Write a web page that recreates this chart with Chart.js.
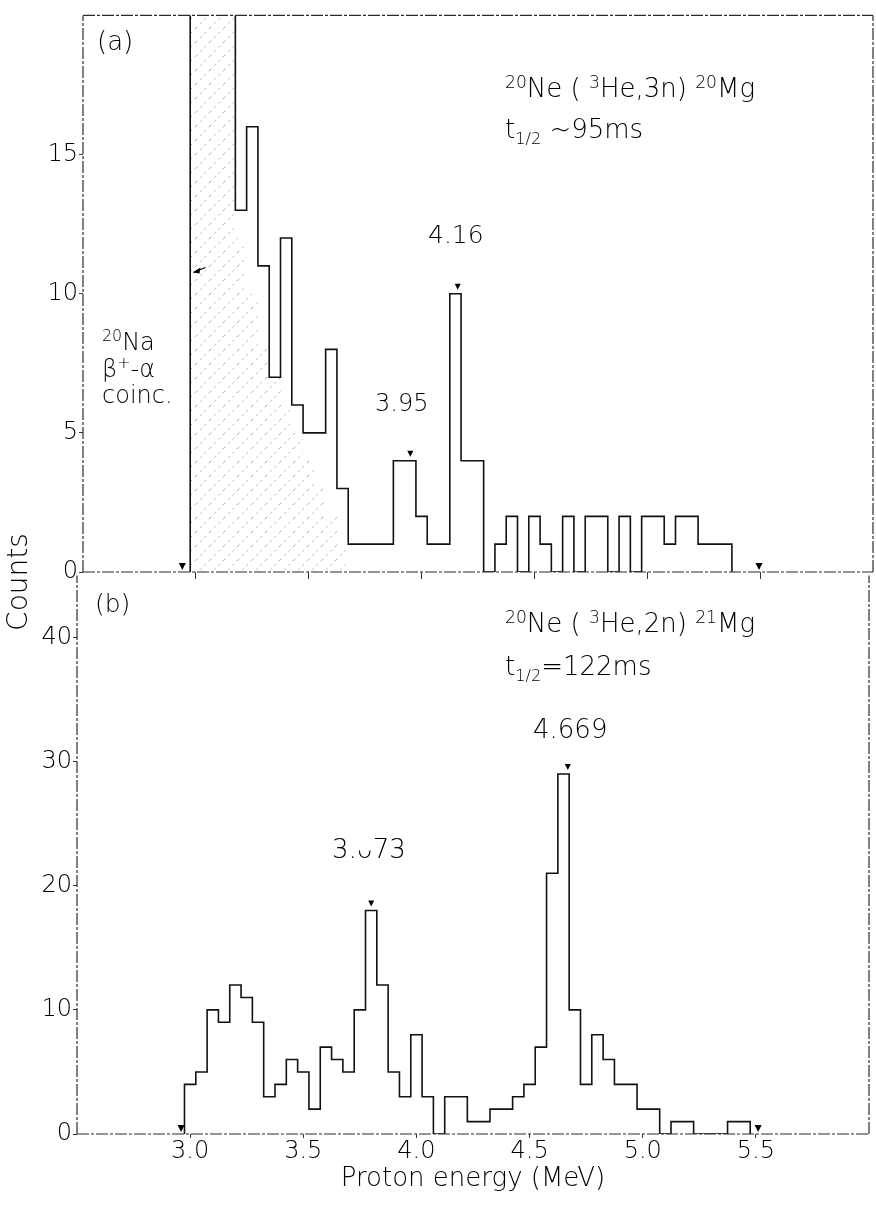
<!DOCTYPE html>
<html>
<head>
<meta charset="utf-8">
<script src="https://cdn.jsdelivr.net/npm/chart.js@4/dist/chart.umd.min.js"></script>
<style>
  html, body { margin: 0; padding: 0; background: #fff; }
  #wrap { position: relative; width: 876px; height: 1207px; overflow: hidden;
          font-family: "DejaVu Sans", sans-serif; font-weight: 200; color: #000; }
  canvas { position: absolute; left: 0; }
  .t { position: absolute; white-space: nowrap; line-height: 1; }
  .t sup { font-size: 0.66em; vertical-align: 0.55em; line-height: 0; }
  .t sub { font-size: 0.62em; vertical-align: -0.35em; line-height: 0; }
</style>
</head>
<body>
<div id="wrap">
  <canvas id="panelA" style="top:0px; width:876px; height:600px;" width="876" height="600"></canvas>
  <canvas id="panelB" style="top:560px; width:876px; height:647px;" width="876" height="647"></canvas>

  <div class="t" style="left:97px; top:28px; font-size:26px;">(a)</div>
  <div class="t" style="left:505px; top:75px; font-size:26px;"><sup>20</sup>Ne ( <sup>3</sup>He,3n) <sup>20</sup>Mg</div>
  <div class="t" style="left:505px; top:116px; font-size:26px;">t<sub>1/2</sub> ~95ms</div>
  <div class="t" style="left:428px; top:222px; font-size:25px;">4.16</div>
  <div class="t" style="left:375px; top:391px; font-size:24px;">3.95</div>
  <div class="t" style="left:102px; top:330px; font-size:24px;"><sup>20</sup>Na</div>
  <div class="t" style="left:102px; top:357px; font-size:24px;">β<sup>+</sup>-α</div>
  <div class="t" style="left:102px; top:383px; font-size:24px;">coinc.</div>

  <div class="t" style="left:95px; top:591px; font-size:25px;">(b)</div>
  <div class="t" style="left:505px; top:610px; font-size:26px;"><sup>20</sup>Ne ( <sup>3</sup>He,2n) <sup>21</sup>Mg</div>
  <div class="t" style="left:505px; top:653px; font-size:26px;">t<sub>1/2</sub>=122ms</div>
  <div class="t" style="left:533px; top:716px; font-size:26px;">4.669</div>
  <div class="t" style="left:332px; top:836px; font-size:26px;">3.ᴗ73</div>

  <div class="t" style="left:18px; top:582px; font-size:28px; transform: translate(-50%,-50%) rotate(-90deg); transform-origin: 50% 50%;">Counts</div>
</div>

<script>
// Bin width of both spectra (MeV); values below are bin centres.
const BIN = 0.05;

// (a) 20Ne(3He,3n)20Mg delayed-proton spectrum
const energyA = [3.00, 3.05, 3.10, 3.15, 3.20, 3.25, 3.30, 3.35, 3.40, 3.45,
                 3.50, 3.55, 3.60, 3.65, 3.70, 3.75, 3.80, 3.85, 3.90, 3.95,
                 4.00, 4.05, 4.10, 4.15, 4.20, 4.25, 4.30, 4.35, 4.40, 4.45,
                 4.50, 4.55, 4.60, 4.65, 4.70, 4.75, 4.80, 4.85, 4.90, 4.95,
                 5.00, 5.05, 5.10, 5.15, 5.20, 5.25, 5.30, 5.35];
const countsA = [24, 24, 24, 24, 13, 16, 11, 7, 12, 6,
                 5, 5, 8, 3, 1, 1, 1, 1, 4, 4,
                 2, 1, 1, 10, 4, 4, 0, 1, 2, 0,
                 2, 1, 0, 2, 0, 2, 2, 0, 2, 0,
                 2, 2, 1, 2, 2, 1, 1, 1];

// (a) hatched 20Na beta+-alpha coincidence contribution
const energyCoinc = [3.00, 3.05, 3.10, 3.15, 3.20, 3.25, 3.30, 3.35, 3.40, 3.45, 3.50, 3.55, 3.60, 3.65];
const countsCoinc = [24, 24, 24, 24, 12, 10, 8, 7, 6, 5, 4, 3, 2, 1];

// (b) 20Ne(3He,2n)21Mg delayed-proton spectrum
const energyB = [3.00, 3.05, 3.10, 3.15, 3.20, 3.25, 3.30, 3.35, 3.40, 3.45,
                 3.50, 3.55, 3.60, 3.65, 3.70, 3.75, 3.80, 3.85, 3.90, 3.95,
                 4.00, 4.05, 4.10, 4.15, 4.20, 4.25, 4.30, 4.35, 4.40, 4.45,
                 4.50, 4.55, 4.60, 4.65, 4.70, 4.75, 4.80, 4.85, 4.90, 4.95,
                 5.00, 5.05, 5.10, 5.15, 5.20, 5.25, 5.30, 5.35, 5.40, 5.45];
const countsB = [4, 5, 10, 9, 12, 11, 9, 3, 4, 6,
                 5, 2, 7, 6, 5, 10, 18, 12, 5, 3,
                 8, 3, 0, 3, 3, 1, 1, 2, 2, 3,
                 4, 7, 21, 29, 10, 4, 8, 6, 4, 4,
                 2, 2, 0, 1, 1, 0, 0, 0, 1, 1];

// Identified peaks (energy, counts of the peak bin)
const peakEnergyA = [3.95, 4.16];
const peakCountA  = [4, 10];
const peakEnergyB = [3.80, 4.669];
const peakCountB  = [18, 29];

// Analysis-window limits marked on the energy axis
const windowA = [2.94, 5.495];
const windowB = [2.96, 5.51];

// Axis ticks
const energyTicks = [3.0, 3.5, 4.0, 4.5, 5.0, 5.5];
const countTicksA = [0, 5, 10, 15];
const countTicksB = [0, 10, 20, 30, 40];

const FONT = { family: '"DejaVu Sans", sans-serif', size: 24, weight: '200' };
const INK = '#000';

// Outline points of a step histogram (left edges, closed to zero at both ends)
function stepPoints(centres, counts) {
  const pts = [{ x: centres[0] - BIN / 2, y: 0 }];
  centres.forEach((c, i) => pts.push({ x: c - BIN / 2, y: counts[i] }));
  pts.push({ x: centres[centres.length - 1] + BIN / 2, y: 0 });
  return pts;
}

function hatchPattern() {
  const c = document.createElement('canvas');
  c.width = 14; c.height = 14;
  const g = c.getContext('2d');
  g.strokeStyle = 'rgba(0,0,0,0.32)';
  g.lineWidth = 1;
  g.setLineDash([2, 4]);
  g.beginPath();
  g.moveTo(0, 14); g.lineTo(14, 0);
  g.stroke();
  return g.createPattern(c, 'repeat');
}

function downTriangle(ctx, px, tipY, w, h) {
  ctx.beginPath();
  ctx.moveTo(px - w / 2, tipY - h);
  ctx.lineTo(px + w / 2, tipY - h);
  ctx.lineTo(px, tipY);
  ctx.closePath();
  ctx.fill();
}

// Dashed frame, window markers and peak markers, all placed through the scales
const panelDecor = {
  id: 'panelDecor',
  afterDatasetsDraw(chart, args, o) {
    const { ctx, chartArea: a, scales: { x, y } } = chart;
    ctx.save();
    ctx.strokeStyle = '#2b2b2b';
    ctx.lineWidth = 1.2;
    ctx.setLineDash([12, 2, 3, 2]);
    ctx.beginPath();
    ctx.moveTo(a.left, a.bottom); ctx.lineTo(a.right, a.bottom);
    ctx.moveTo(a.left, a.bottom); ctx.lineTo(a.left, a.top);
    ctx.moveTo(a.right, a.bottom); ctx.lineTo(a.right, a.top);
    if (o.topSide) { ctx.moveTo(a.left, a.top); ctx.lineTo(a.right, a.top); }
    ctx.stroke();
    ctx.setLineDash([]);
    ctx.fillStyle = INK;
    o.window.forEach(e => downTriangle(ctx, x.getPixelForValue(e), y.getPixelForValue(0) - 2, 7, 7));
    o.peakE.forEach((e, i) => downTriangle(ctx, x.getPixelForValue(e), y.getPixelForValue(o.peakN[i]) - 4, 6, 6));
    if (o.arrow) {
      const tx = x.getPixelForValue(o.arrow.x), ty = y.getPixelForValue(o.arrow.y);
      ctx.strokeStyle = INK; ctx.lineWidth = 1.2;
      ctx.beginPath(); ctx.moveTo(tx + 3, ty); ctx.lineTo(tx + 13, ty - 4); ctx.stroke();
      ctx.beginPath(); ctx.moveTo(tx, ty + 1); ctx.lineTo(tx + 8, ty - 4); ctx.lineTo(tx + 7, ty + 2); ctx.closePath(); ctx.fill();
    }
    ctx.restore();
  }
};

function makePanel(id, cfg) {
  const datasets = cfg.series.map(s => ({
    data: stepPoints(s.e, s.n),
    stepped: 'before',
    borderColor: s.fill ? 'rgba(0,0,0,0)' : '#111',
    borderWidth: s.fill ? 0 : 1.6,
    backgroundColor: s.fill || 'rgba(0,0,0,0)',
    fill: s.fill ? 'origin' : false,
    pointRadius: 0,
    tension: 0,
    order: s.fill ? 2 : 1
  }));
  return new Chart(document.getElementById(id), {
    type: 'line',
    data: { datasets },
    options: {
      responsive: false,
      animation: false,
      events: [],
      layout: { padding: cfg.padding },
      plugins: {
        legend: { display: false },
        tooltip: { enabled: false },
        panelDecor: cfg.decor
      },
      scales: {
        x: {
          type: 'linear', min: 2.5, max: 6.0,
          afterBuildTicks: s => { s.ticks = energyTicks.map(v => ({ value: v })); },
          afterFit: s => { s.height = cfg.xHeight; },
          border: { display: false },
          grid: { drawOnChartArea: false, drawTicks: true, tickLength: cfg.xTickLen, color: '#333', lineWidth: 1 },
          ticks: {
            display: cfg.xLabels, font: FONT, color: INK, padding: cfg.xPad, maxRotation: 0,
            callback: v => Number(v).toFixed(1)
          },
          title: cfg.xTitle ? {
            display: true, text: cfg.xTitle, color: INK,
            font: { family: FONT.family, size: 26, weight: '200' },
            padding: { top: 0, bottom: 12 }
          } : { display: false }
        },
        y: {
          type: 'linear', min: 0, max: cfg.yMax,
          afterBuildTicks: s => { s.ticks = cfg.yTicks.map(v => ({ value: v })); },
          afterFit: s => { s.width = cfg.yWidth; },
          border: { display: false },
          grid: { drawOnChartArea: false, drawTicks: true, tickLength: 4, color: '#333', lineWidth: 1 },
          ticks: { font: FONT, color: INK, padding: 1 }
        }
      }
    },
    plugins: [panelDecor]
  });
}

makePanel('panelA', {
  series: [
    { e: energyCoinc, n: countsCoinc, fill: hatchPattern() },
    { e: energyA, n: countsA }
  ],
  padding: { top: 10, right: 3, left: 0, bottom: 0 },
  xHeight: 28, yWidth: 83, yMax: 20, yTicks: countTicksA,
  xLabels: false, xTitle: null, xTickLen: 7, xPad: 4,
  decor: { window: windowA, peakE: peakEnergyA, peakN: peakCountA, topSide: true, arrow: { x: 2.985, y: 10.8 } }
});

makePanel('panelB', {
  series: [ { e: energyB, n: countsB } ],
  padding: { top: 12, right: 7, left: 0, bottom: 0 },
  xHeight: 73, yWidth: 77, yMax: 45, yTicks: countTicksB,
  xLabels: true, xTitle: 'Proton energy (MeV)', xTickLen: 4, xPad: -1,
  decor: { window: windowB, peakE: peakEnergyB, peakN: peakCountB, topSide: false, arrow: null }
});
</script>
</body>
</html>
